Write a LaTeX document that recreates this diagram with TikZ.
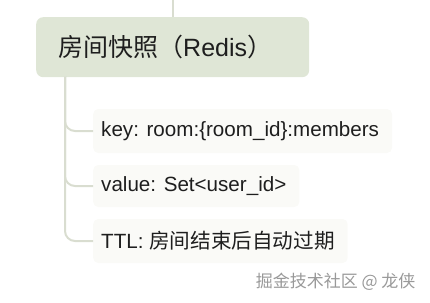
\documentclass[tikz,border=0pt]{standalone}
\usepackage{fontspec}
\setmainfont{Liberation Sans}
\newfontfamily\cjk{Noto Sans CJK SC}
\usetikzlibrary{positioning}
\definecolor{rootfill}{HTML}{DFE6D6}
\definecolor{leaffill}{HTML}{FAFAF7}
\definecolor{branch}{HTML}{D9DDD0}
\definecolor{inkgray}{HTML}{1E1E1E}
\tikzset{
  rootbox/.style={rounded corners=7pt, fill=rootfill, minimum height=60pt, text width=229pt, inner xsep=22pt, font=\fontsize{25}{28}\selectfont, text=inkgray, anchor=north west},
  leafbox/.style={rounded corners=5pt, fill=leaffill, inner xsep=8pt, minimum height=44pt, font=\fontsize{20.6}{24}\selectfont, text=inkgray, anchor=west, execute at end node=\hspace*{5pt}},
  branchline/.style={draw=branch, line width=2pt, rounded corners=10pt},
}
\begin{document}
\begin{tikzpicture}[x=1pt, y=-1pt]
  \useasboundingbox (0,0) rectangle (430,302);
  % root
  \node[rootbox] (root) at (36,17) {{\cjk 房间快照（}Redis{\cjk ）}};
  \coordinate (up) at (173,0);
  \draw[branchline] (up) -- (up |- root.north);
  \coordinate (trunk) at (65,77);
  % leaves
  \node[leafbox] (key) at (93,131) {key: room:\{room\_id\}:members};
  \node[leafbox, minimum height=42pt] (value) at (93,186) {value: Set<user\_id>};
  \node[leafbox] (ttl) at (93,241) {TTL: {\cjk 房间结束后自动过期}};
  \foreach \leaf in {key, value, ttl}
    \draw[branchline] (trunk) |- (\leaf.west);
  % watermark
  \node[anchor=east, text=gray!80, font=\cjk\fontsize{17}{19}\selectfont] (mark) at (419,282) {掘金技术社区 @ 龙侠};
\end{tikzpicture}
\end{document}
